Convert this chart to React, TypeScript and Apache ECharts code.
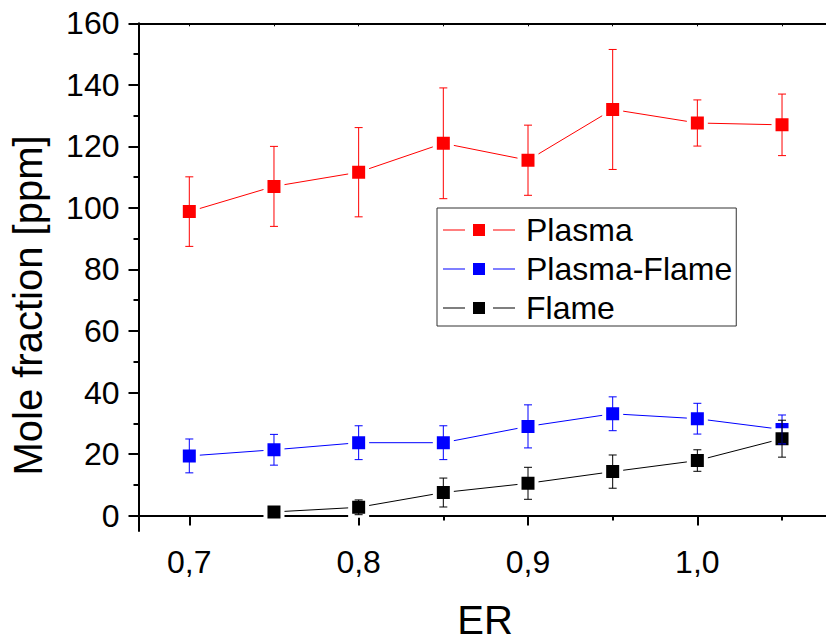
import React, { useEffect, useRef } from 'react';
import * as echarts from 'echarts';

const erValues = [0.7, 0.75, 0.8, 0.85, 0.9, 0.95, 1.0, 1.05];
const plasma = [98.8, 107, 111.6, 121, 115.5, 132, 127.6, 127];
const plasmaErr = [11.3, 13, 14.5, 18, 11.4, 19.5, 7.5, 10];
const plasmaFlame = [19.4, 21.4, 23.7, 23.7, 29, 33.1, 31.5, 28];
const plasmaFlameErr = [5.5, 5, 5.5, 5.5, 7, 5.5, 5, 4.7];
const flame = [null, 1.2, 2.7, 7.5, 10.5, 14.3, 17.9, 25];
const flameErr = [null, 0.3, 2.4, 4.7, 5.2, 5.4, 3.5, 6];

const xMajorTicks = [0.7, 0.8, 0.9, 1.0];
const xMinorTicks = [0.75, 0.85, 0.95, 1.05];
const yMajorTicks = [0, 20, 40, 60, 80, 100, 120, 140, 160];
const yMinorTicks = [10, 30, 50, 70, 90, 110, 130, 150];

const seriesNames = ['Plasma', 'Plasma-Flame', 'Flame'];
const seriesColors = ['#ff0000', '#0000ff', '#000000'];

const FONT = "'Liberation Sans', Arial, Helvetica, sans-serif";
const X_MIN = 0.67;
const X_MAX = 1.1;
const Y_MIN = -5;
const Y_MAX = 160;

const LEGEND_ICON = 'path://M0 5.5H22V6.5H0Z M30 0H42V12H30Z M50 5.5H72V6.5H50Z';

export default function App() {
  const ref = useRef<HTMLDivElement>(null);
  useEffect(() => {
    const chart = echarts.init(ref.current!, null, { renderer: 'svg' });
    const values = [plasma, plasmaFlame, flame];
    const errs = [plasmaErr, plasmaFlameErr, flameErr];

    const lineSeries = values.map((vals, si) => ({
      name: seriesNames[si],
      type: 'line',
      xAxisIndex: 0,
      yAxisIndex: 0,
      z: 2,
      data: erValues
        .map((x, i) => (vals[i] == null ? null : [x, vals[i]]))
        .filter((d) => d !== null),
      symbol: 'rect',
      symbolSize: 17,
      lineStyle: { color: seriesColors[si], width: 1 },
      itemStyle: { color: seriesColors[si], borderColor: '#ffffff', borderWidth: 4 },
      emphasis: { disabled: true },
    }));

    const errSeries = values.map((vals, si) => ({
      name: seriesNames[si] + ' error',
      type: 'custom',
      xAxisIndex: 0,
      yAxisIndex: 0,
      z: 3,
      silent: true,
      encode: { x: 0, y: [1, 2] },
      data: erValues
        .map((x, i) =>
          vals[i] == null ? null : [x, (vals[i] as number) - (errs[si][i] as number), (vals[i] as number) + (errs[si][i] as number)]
        )
        .filter((d) => d !== null),
      renderItem: (params: any, api: any) => {
        const x = api.value(0);
        const lo = api.coord([x, api.value(1)]);
        const hi = api.coord([x, api.value(2)]);
        const hw = 4;
        const style = { stroke: seriesColors[si], lineWidth: 1 };
        return {
          type: 'group',
          children: [
            { type: 'line', shape: { x1: lo[0], y1: lo[1], x2: hi[0], y2: hi[1] }, style },
            { type: 'line', shape: { x1: lo[0] - hw, y1: lo[1], x2: lo[0] + hw, y2: lo[1] }, style },
            { type: 'line', shape: { x1: hi[0] - hw, y1: hi[1], x2: hi[0] + hw, y2: hi[1] }, style },
          ],
        };
      },
    }));

    const axisLine = { show: true, lineStyle: { color: '#000', width: 2 } };

    chart.setOption({
      animation: false,
      backgroundColor: '#ffffff',
      grid: { left: 138.5, right: 33.3, top: 23.3, bottom: 110, containLabel: false },
      xAxis: [
        {
          type: 'value',
          position: 'bottom',
          min: X_MIN,
          max: X_MAX,
          axisLine,
          axisTick: { show: true, inside: false, length: 10, customValues: xMajorTicks, lineStyle: { color: '#000', width: 2 } },
          axisLabel: {
            show: true,
            customValues: xMajorTicks,
            margin: 15,
            fontSize: 32,
            color: '#000',
            fontFamily: FONT,
            formatter: (v: number) => v.toFixed(1).replace('.', ','),
          },
          splitLine: { show: false },
        },
        {
          type: 'value',
          position: 'bottom',
          min: X_MIN,
          max: X_MAX,
          axisLine: { show: false },
          axisTick: { show: true, inside: false, length: 5, customValues: xMinorTicks, lineStyle: { color: '#000', width: 2 } },
          axisLabel: { show: false },
          splitLine: { show: false },
        },
        {
          type: 'value',
          position: 'top',
          min: X_MIN,
          max: X_MAX,
          axisLine,
          axisTick: { show: true, inside: true, length: 3, customValues: [...xMajorTicks, ...xMinorTicks], lineStyle: { color: '#000', width: 1 } },
          axisLabel: { show: false },
          splitLine: { show: false },
        },
      ],
      yAxis: [
        {
          type: 'value',
          position: 'left',
          min: Y_MIN,
          max: Y_MAX,
          axisLine,
          axisTick: { show: true, inside: false, length: 10, customValues: yMajorTicks, lineStyle: { color: '#000', width: 2 } },
          axisLabel: {
            show: true,
            customValues: yMajorTicks,
            margin: 19,
            fontSize: 32,
            color: '#000',
            fontFamily: FONT,
          },
          splitLine: { show: false },
        },
        {
          type: 'value',
          position: 'left',
          min: Y_MIN,
          max: Y_MAX,
          axisLine: { show: false },
          axisTick: { show: true, inside: false, length: 5, customValues: yMinorTicks, lineStyle: { color: '#000', width: 2 } },
          axisLabel: { show: false },
          splitLine: { show: false },
        },
      ],
      legend: {
        data: seriesNames.map((n) => ({ name: n, icon: LEGEND_ICON })),
        orient: 'vertical',
        left: 437,
        top: 208,
        itemWidth: 72,
        itemHeight: 12,
        itemGap: 7,
        padding: [6, 4, 2, 6],
        borderColor: '#333',
        borderWidth: 1,
        backgroundColor: '#fff',
        selectedMode: false,
        itemStyle: { borderWidth: 0 },
        textStyle: { fontSize: 32, color: '#000', fontFamily: FONT, padding: [0, 0, 0, 6] },
      },
      graphic: [
        {
          type: 'text',
          x: 485,
          y: 620,
          style: {
            text: 'ER',
            x: 0,
            y: 0,
            fill: '#000',
            font: `40px ${FONT}`,
            lineHeight: 32,
            textAlign: 'center',
            textVerticalAlign: 'middle',
            align: 'center',
            verticalAlign: 'middle',
          },
        },
        {
          type: 'text',
          x: 27.5,
          y: 305.5,
          rotation: Math.PI / 2,
          style: {
            text: 'Mole fraction [ppm]',
            x: 0,
            y: 0,
            fill: '#000',
            font: `40px ${FONT}`,
            textAlign: 'center',
            textVerticalAlign: 'middle',
            align: 'center',
            verticalAlign: 'middle',
          },
        },
      ],
      series: [...lineSeries, ...errSeries],
    } as any);
    return () => chart.dispose();
  }, []);
  return (
    <div
      style={{
        position: 'fixed',
        left: 0,
        top: 0,
        width: 826,
        height: 641,
        overflow: 'hidden',
        background: '#fff',
      }}
    >
      <div ref={ref} style={{ width: 900, height: 641 }} />
    </div>
  );
}
